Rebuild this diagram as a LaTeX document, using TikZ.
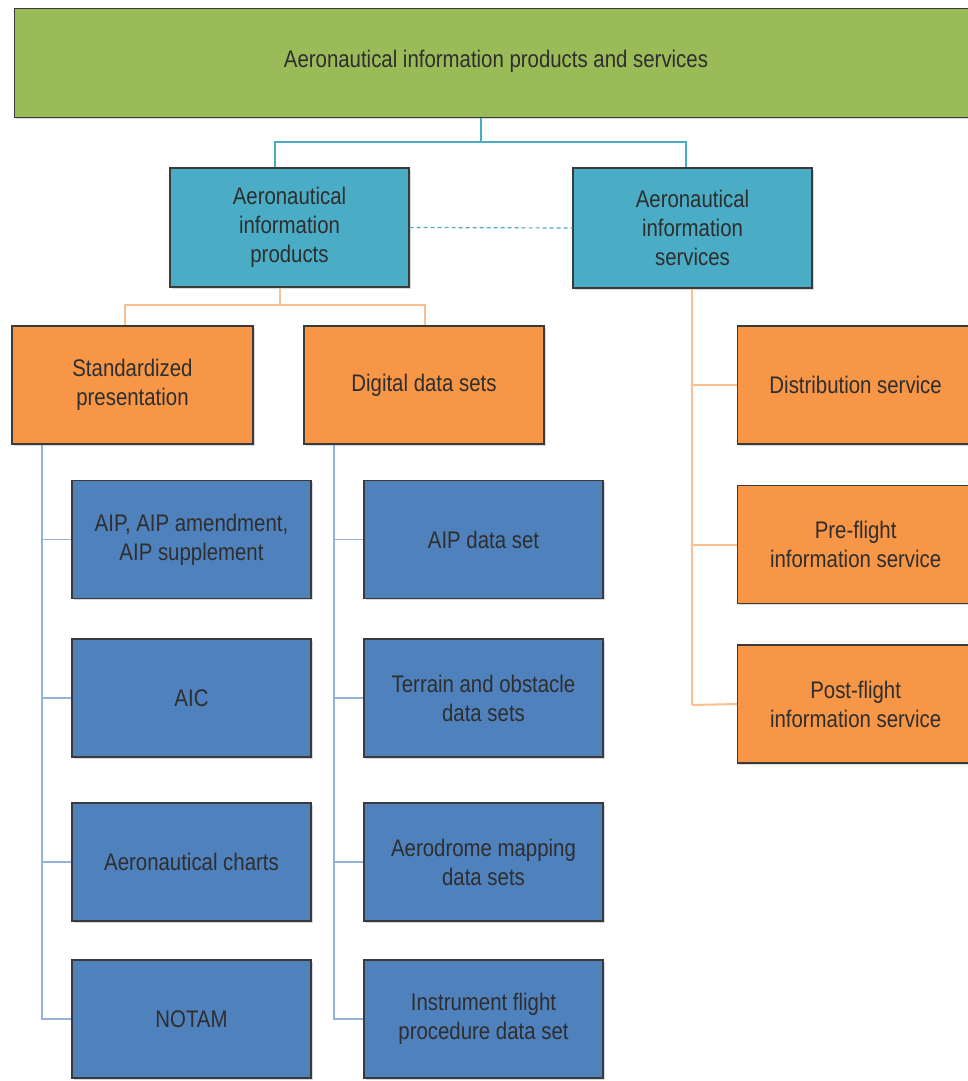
\documentclass[tikz,border=0pt]{standalone}
\usepackage{fontspec}
\setmainfont{Liberation Sans}[FakeStretch=0.85]
\usetikzlibrary{shadows}
\definecolor{cgreen}{HTML}{9BBB59}
\definecolor{cteal}{HTML}{4BACC6}
\definecolor{corange}{HTML}{F79646}
\definecolor{cblue}{HTML}{4F81BD}
\definecolor{lteal}{HTML}{4BACC6}
\definecolor{lorange}{HTML}{FAC090}
\definecolor{lblue}{HTML}{95B3D7}
\definecolor{cborder}{HTML}{3A3A3A}
\definecolor{ctext}{HTML}{2E2E2E}
\tikzset{
  box/.style={draw=cborder, line width=1.3pt, minimum width=239pt, minimum height=118pt,
    align=center, text=ctext, font=\fontsize{24}{29}\selectfont, inner sep=0pt,
    drop shadow={shadow xshift=1.5pt, shadow yshift=-1.5pt, fill=black!25, opacity=0.6}},
  gbox/.style={box, fill=cgreen},
  tbox/.style={box, fill=cteal},
  obox/.style={box, fill=corange},
  bbox/.style={box, fill=cblue},
  tline/.style={draw=lteal, line width=1.6pt},
  oline/.style={draw=lorange, line width=2pt},
  bline/.style={draw=lblue, line width=1.6pt},
}
\begin{document}
\begin{tikzpicture}[x=1pt,y=-1pt]
\useasboundingbox (0,0) rectangle (967,1081);
% connector coordinates
\coordinate (tj) at (481,142);
\coordinate (tjl) at (275,142);
\coordinate (tjr) at (686,142);
\coordinate (oj) at (280,305);
\coordinate (ojl) at (125,305);
\coordinate (ojr) at (425,305);
\coordinate (sv) at (692,705);
\coordinate (lv) at (42,1019);
\coordinate (rv) at (334,1019);
% top
\node[gbox, minimum width=975pt, minimum height=109pt, anchor=north west] (top) at (14,8) {};
\node[text=ctext, font=\fontsize{24}{29}\selectfont] (toplabel) at (496,61) {Aeronautical information products and services};
% level 2
\node[tbox, minimum height=119pt] (prod) at (289.5,227.5) {Aeronautical\\information\\products};
\node[tbox, minimum height=120pt] (serv) at (692.5,228) {Aeronautical\\information\\services};
% level 3
\node[obox, minimum width=241pt] (std) at (132.5,385) {Standardized\\presentation};
\node[obox, minimum width=240pt] (dig) at (424,385) {Digital data sets};
% services children
\node[obox, minimum width=250pt, anchor=west] (dist) at (737,385) {\hspace*{-14pt}Distribution service};
\node[obox, minimum width=250pt, anchor=west] (pre) at (737,544.5) {\hspace*{-14pt}\parbox{220pt}{\centering Pre-flight\\information service}};
\node[obox, minimum width=250pt, anchor=west] (post) at (737,704) {\hspace*{-14pt}\parbox{220pt}{\centering Post-flight\\information service}};
% left blue column
\node[bbox] (aip) at (191.5,539.5) {AIP, AIP amendment,\\AIP supplement};
\node[bbox] (aic) at (191.5,698) {AIC};
\node[bbox] (charts) at (191.5,862) {Aeronautical charts};
\node[bbox] (notam) at (191.5,1019) {NOTAM};
% right blue column
\node[bbox] (aipds) at (483.5,539.5) {AIP data set};
\node[bbox] (terrain) at (483.5,698) {Terrain and obstacle\\data sets};
\node[bbox] (aero) at (483.5,862) {Aerodrome mapping\\data sets};
\node[bbox] (ifp) at (483.5,1019) {Instrument flight\\procedure data set};
% connectors top
\draw[tline] (top.south -| tj) -- (tj);
\draw[tline] (tj) -- (tjl) -- (tjl |- prod.north);
\draw[tline] (tj) -- (tjr) -- (tjr |- serv.north);
\draw[tline, dash pattern=on 4pt off 3pt, line width=1.2pt] (prod.east) -- (serv.west);
% products to orange
\draw[oline] (prod.south -| oj) -- (oj);
\draw[oline] (oj) -- (ojl) -- (ojl |- std.north);
\draw[oline] (oj) -- (ojr) -- (ojr |- dig.north);
% services children
\draw[oline] (serv.south -| sv) -- (sv);
\draw[oline] (dist.west) -- (dist.west -| sv);
\draw[oline] (pre.west) -- (pre.west -| sv);
\draw[oline] (post.west) -- (sv);
% left blue
\draw[bline] (std.south -| lv) -- (lv) -- (notam.west);
\draw[bline] (aip.west) -- (aip.west -| lv);
\draw[bline] (aic.west) -- (aic.west -| lv);
\draw[bline] (charts.west) -- (charts.west -| lv);
% right blue
\draw[bline] (dig.south -| rv) -- (rv) -- (ifp.west);
\draw[bline] (aipds.west) -- (aipds.west -| rv);
\draw[bline] (terrain.west) -- (terrain.west -| rv);
\draw[bline] (aero.west) -- (aero.west -| rv);
\end{tikzpicture}
\end{document}
